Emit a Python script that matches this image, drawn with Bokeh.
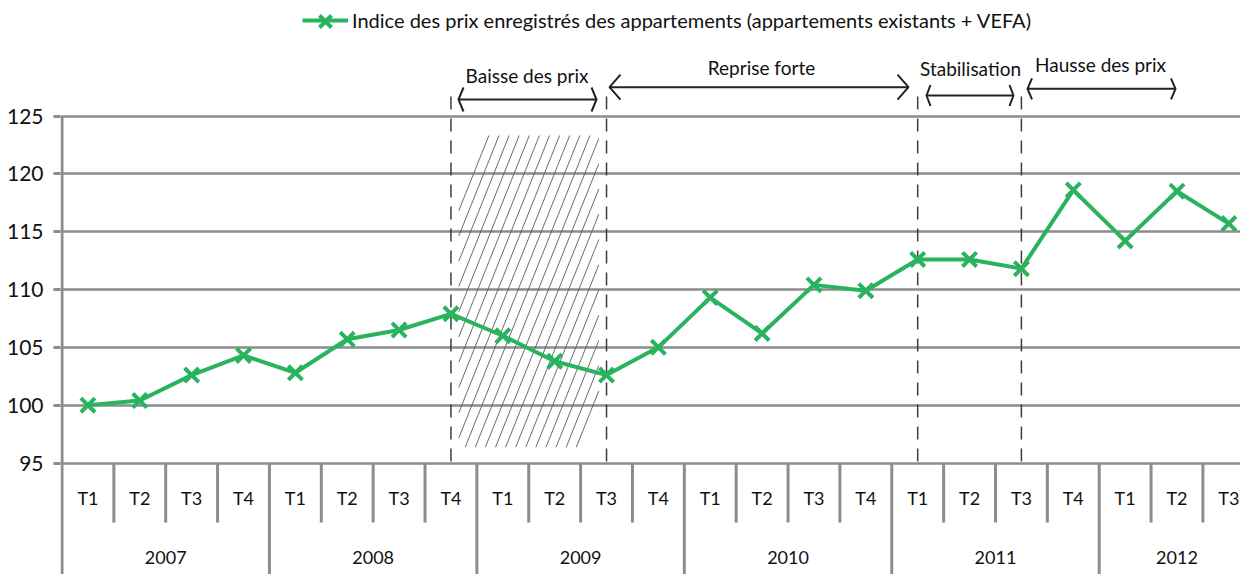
import numpy as np
from bokeh.plotting import figure
from bokeh.models import Range1d, FixedTicker, LinearAxis, Legend, LegendItem, Grid
from bokeh.core.properties import value
from bokeh.embed import file_html
from bokeh.resources import INLINE

# ---------------- data ----------------
years = ["2007", "2008", "2009", "2010", "2011", "2012"]
quarters_per_year = [4, 4, 4, 4, 4, 3]
quarter_names = ["T1", "T2", "T3", "T4"]
values = [100.0, 100.4, 102.6, 104.3,
          102.8, 105.7, 106.5, 107.9,
          106.0, 103.8, 102.6, 105.0,
          109.3, 106.2, 110.4, 109.9,
          112.6, 112.6, 111.8, 118.6,
          114.2, 118.5, 115.7]
series_label = "Indice des prix enregistrés des appartements (appartements existants + VEFA)"
y_ticks = [95, 100, 105, 110, 115, 120, 125]
phase_labels = ["Baisse des prix", "Reprise forte", "Stabilisation", "Hausse des prix"]
phase_marks = [7, 10, 16, 18]   # quarter index where each dashed marker stands

# ---------------- layout helpers ----------------
FONT = "Lato"
GREEN = "#29b35f"
GRAY = "#8c8c8c"
DARK = "#222222"
W, H = 1240, 574
PAGE = 0
LEFT = 60
PX_X = 51.86       # pixels per quarter
PX_Y = 11.567      # pixels per index point
ORIGIN_X = 61.5    # page pixel of category boundary 0
Y125 = 115.5       # page pixel of value 125


def xd(ax):
    return (ax - ORIGIN_X) / PX_X


def yd(ay):
    return 125 - (ay - Y125) / PX_Y


x_start, x_end = xd(PAGE + LEFT), xd(PAGE + W)
y_top, y_bot = yd(PAGE), yd(PAGE + H)

quarter_labels = []
for y, n in zip(years, quarters_per_year):
    quarter_labels += quarter_names[:n]
n_q = len(values)
xc = [i + 0.5 for i in range(n_q)]

p = figure(width=W, height=H, x_range=Range1d(x_start, x_end), y_range=Range1d(y_bot, y_top),
           output_backend="svg", toolbar_location=None,
           min_border_left=LEFT, min_border_right=0, min_border_top=0, min_border_bottom=0,
           x_axis_location=None, y_axis_location=None)
p.outline_line_color = None
for g in p.grid:
    g.visible = False

# y axis
yaxis = LinearAxis(ticker=FixedTicker(ticks=y_ticks))
yaxis.axis_line_color = None
yaxis.major_tick_line_color = GRAY
yaxis.major_tick_line_width = 3
yaxis.major_tick_out = 7
yaxis.major_tick_in = 0
yaxis.minor_tick_line_color = None
yaxis.major_label_standoff = 10
yaxis.major_label_text_font = FONT
yaxis.major_label_text_font_size = "21px"
yaxis.major_label_text_color = "#111111"
p.add_layout(yaxis, "left")

grid = Grid(dimension=1, ticker=FixedTicker(ticks=y_ticks),
            grid_line_color=GRAY, grid_line_width=2.6)
p.add_layout(grid)

# category axis drawn inside the frame
bounds = list(range(0, n_q + 1))
year_starts = [int(v) for v in np.cumsum([0] + quarters_per_year[:-1])]
short_b = [b for b in bounds[1:] if b not in year_starts]
y_short_end = yd(522)
p.segment(x0=short_b, y0=[95] * len(short_b), x1=short_b, y1=[y_short_end] * len(short_b),
          line_color=GRAY, line_width=3)
p.segment(x0=year_starts[1:], y0=[95] * (len(years) - 1), x1=year_starts[1:],
          y1=[y_bot] * (len(years) - 1), line_color=GRAY, line_width=3)
p.segment(x0=[0], y0=[125], x1=[0], y1=[y_bot], line_color=GRAY, line_width=3)

p.text(x=xc, y=[yd(497)] * n_q, text=quarter_labels, text_align="center", text_baseline="middle",
       text_font=value(FONT), text_font_size="18px", text_color="#111111")
year_centers = [s + n / 2 for s, n in zip(year_starts, quarters_per_year)]
p.text(x=year_centers, y=[yd(557)] * len(years), text=years, text_align="center",
       text_baseline="middle", text_font=value(FONT), text_font_size="18px", text_color="#111111")

# hatched "Baisse" zone
rx0, rx1, ry0, ry1, s = 458.3, 598.3, 446.7, 135.0, 0.4
hx0, hy0, hx1, hy1 = [], [], [], []
for xb in np.arange(363.7, 581, 10.1):
    if xb < rx0:
        x0, y0 = rx0, ry0 - (rx0 - xb) / s
    else:
        x0, y0 = xb, ry0
    x1 = xb + s * (ry0 - ry1)
    if x1 > rx1:
        x1, y1 = rx1, ry0 - (rx1 - xb) / s
    else:
        y1 = ry1
    if y0 > y1:
        hx0.append(xd(x0)); hy0.append(yd(y0)); hx1.append(xd(x1)); hy1.append(yd(y1))
p.segment(x0=hx0, y0=hy0, x1=hx1, y1=hy1, line_color="#5a5a5a", line_width=0.9)

# dashed phase markers
dx = [m + 0.5 for m in phase_marks]
p.segment(x0=dx, y0=[yd(96)] * 4, x1=dx, y1=[95] * 4, line_color="#3c3c3c",
          line_width=1.5, line_dash="13 9")

# phase arrows + labels
arrows = [(458, 596, 99.0, 5, 12), (609, 908, 86.7, 11, 12.5),
          (926, 1013, 95.0, 4, 10.5), (1027, 1175, 88.3, 4.5, 10.5)]
label_pos = [(526.5, 75), (761, 67), (970, 68), (1100, 64)]
axs, ays = [], []
for xl, xr, ya, hl, hw in arrows:
    axs += [[xd(xl), xd(xr)], [xd(xl + hl), xd(xl), xd(xl + hl)], [xd(xr - hl), xd(xr), xd(xr - hl)]]
    ays += [[yd(ya), yd(ya)], [yd(ya - hw), yd(ya), yd(ya + hw)], [yd(ya - hw), yd(ya), yd(ya + hw)]]
p.multi_line(xs=axs, ys=ays, line_color=DARK, line_width=2)
p.text(x=[xd(a) for a, b in label_pos], y=[yd(b) for a, b in label_pos], text=phase_labels,
       text_align="center", text_baseline="middle", text_font=value(FONT),
       text_font_size="19px", text_color="#111111")

# series
lr = p.line(xc, values, line_color=GREEN, line_width=4)
sr = p.scatter(xc, values, marker="x", size=20, line_color=GREEN, line_width=4)

legend = Legend(items=[LegendItem(label=series_label, renderers=[lr])],
                location=(302 - LEFT, H - 32), orientation="horizontal",
                glyph_width=46, glyph_height=22, label_standoff=4, padding=0, margin=0,
                border_line_color=None, background_fill_alpha=0,
                label_text_font=FONT, label_text_font_size="20px", label_text_color="#111111")
p.add_layout(legend)
# enlarge the legend's cross marker to match the series marker
p.scatter([xd(325)], [yd(21)], marker="x", size=17, line_color=GREEN, line_width=4)

open("out.html", "w").write(file_html(p, INLINE))
